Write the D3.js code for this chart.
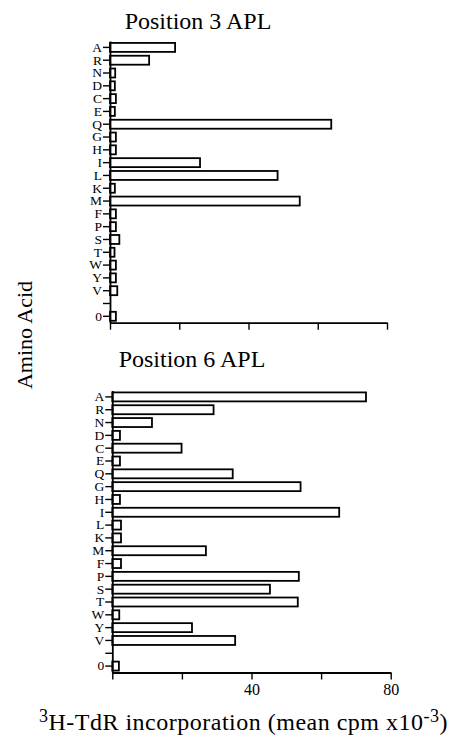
<!DOCTYPE html>
<html>
<head>
<meta charset="utf-8">
<script src="https://cdn.jsdelivr.net/npm/d3@7"></script>
<style>
  body { margin: 0; background: #fff; }
  text { font-family: "Liberation Serif", "Times New Roman", serif; fill: #000; }
</style>
</head>
<body>
<div id="chart"></div>
<script>
// amino acids down the y axis, 'gap' is the empty slot above the zero control
const aminoAcids = ['A','R','N','D','C','E','Q','G','H','I','L','K','M','F','P','S','T','W','Y','V','gap','0'];
// mean cpm x10^-3
const pos3Values = [18.8, 11.3, 1.5, 1.4, 1.7, 1.4, 63.9, 1.7, 1.7, 26.0, 48.4, 1.4, 54.8, 1.7, 1.7, 2.7, 1.3, 1.7, 1.7, 2.1, null, 1.7];
const pos6Values = [72.9, 29.1, 11.4, 2.2, 19.9, 2.2, 34.6, 54.1, 2.2, 65.2, 2.5, 2.5, 26.9, 2.5, 53.6, 45.3, 53.3, 2.0, 22.9, 35.3, null, 1.9];
const xTicks = [0, 20, 40, 60, 80];
const xTickLabels = ['', '', '40', '', '80'];

const width = 453, height = 744;

const svg = d3.select('#chart').append('svg')
    .attr('width', width)
    .attr('height', height);

// layout of the two panels
let panels = [
    { title: 'Position 3 APL', values: pos3Values, left: 110, right: 387, top: 41, bottom: 322.7, titleX: 198, titleY: 28.5, showLabels: false },
    { title: 'Position 6 APL', values: pos6Values, left: 112.3, right: 390.7, top: 390.5, bottom: 672.5, titleX: 192, titleY: 366.5, showLabels: true }
];

panels.forEach(p => drawPanel(p));

function drawPanel(p){
    const x = d3.scaleLinear().domain([0, 80]).range([p.left, p.right]);
    const y = d3.scaleBand().domain(aminoAcids).range([p.top, p.bottom]).paddingInner(0.3).paddingOuter(0.15);

    const g = svg.append('g');

    // bars
    g.selectAll('rect')
        .data(aminoAcids.map((a, i) => ({ acid: a, value: p.values[i] })).filter(d => d.value != null))
        .join('rect')
        .attr('x', x(0))
        .attr('y', d => y(d.acid))
        .attr('width', d => x(d.value) - x(0))
        .attr('height', y.bandwidth())
        .attr('fill', '#fff')
        .attr('stroke', '#000')
        .attr('stroke-width', 1.8);

    // y axis
    const yAxis = g.append('g')
        .attr('transform', `translate(${p.left},0)`)
        .call(d3.axisLeft(y).tickSize(7).tickSizeOuter(0).tickPadding(1)
            .tickFormat(d => d === 'gap' ? '' : d));
    yAxis.select('.domain').attr('stroke-width', 1.8);
    yAxis.selectAll('.tick line').attr('stroke-width', 1.4);
    yAxis.selectAll('text').style('font-size', '13.5px');

    // x axis
    const xAxis = g.append('g')
        .attr('transform', `translate(0,${p.bottom})`)
        .call(d3.axisBottom(x).tickValues(xTicks).tickSize(7).tickSizeOuter(0).tickPadding(4)
            .tickFormat((d, i) => p.showLabels ? xTickLabels[i] : ''));
    xAxis.select('.domain').attr('stroke-width', 1.8);
    xAxis.selectAll('.tick line').attr('stroke-width', 1.4);
    xAxis.selectAll('text').style('font-size', '16px');

    g.append('text')
        .attr('x', p.titleX)
        .attr('y', p.titleY)
        .attr('text-anchor', 'middle')
        .style('font-size', '24px')
        .text(p.title);
}

// shared y label
svg.append('text')
    .attr('transform', 'translate(32,335) rotate(-90)')
    .attr('text-anchor', 'middle')
    .style('font-size', '22px')
    .text('Amino Acid');

// x label with superscripts
const xLabel = svg.append('text')
    .attr('x', 243.5)
    .attr('y', 730)
    .attr('text-anchor', 'middle')
    .style('font-size', '24px')
    .style('letter-spacing', '0.5px');
xLabel.append('tspan').attr('dy', -8).style('font-size', '18px').text('3');
xLabel.append('tspan').attr('dy', 8).text('H-TdR incorporation (mean cpm x10');
xLabel.append('tspan').attr('dy', -8).style('font-size', '18px').text('-3');
xLabel.append('tspan').attr('dy', 8).text(')');
</script>
</body>
</html>
